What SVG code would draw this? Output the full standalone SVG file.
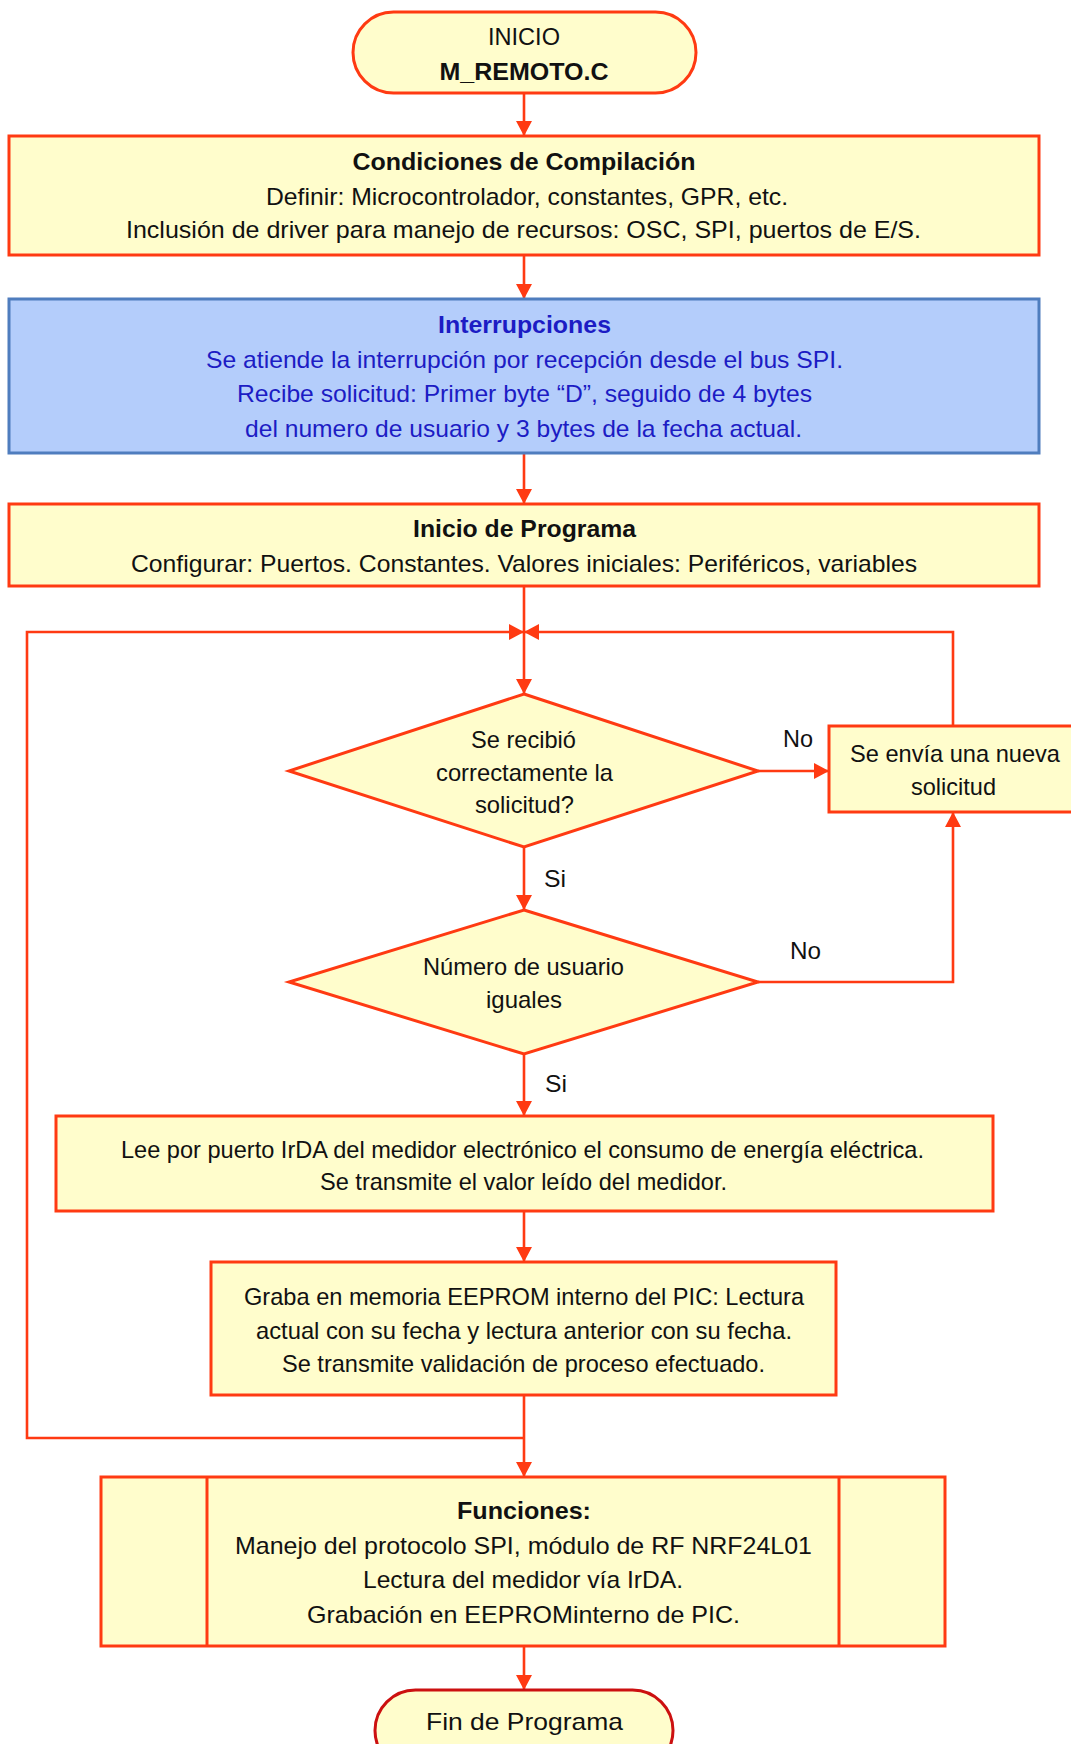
<svg xmlns="http://www.w3.org/2000/svg" width="1071" height="1744" viewBox="0 0 1071 1744">
  <style>
    .box { fill: #FFFDCC; stroke: #FF3A12; stroke-width: 3; }
    .blue { fill: #B4CDFB; stroke: #4F7DBE; stroke-width: 3; }
    .end { fill: #FFFDCC; stroke: #CC1010; stroke-width: 3; }
    .wire { fill: none; stroke: #FF3A12; stroke-width: 2.6; }
    text { font-family: "Liberation Sans", Arial, sans-serif; font-size: 24px; fill: #111111; }
    .c { text-anchor: middle; }
    .b { font-weight: bold; }
    .bt { fill: #1C1CC4; }
  </style>
  <defs>
    <marker id="arrow" markerUnits="userSpaceOnUse" markerWidth="16" markerHeight="16" refX="15" refY="8" orient="auto">
      <path d="M0,0 L15,8 L0,16 z" fill="#FF3A12"/>
    </marker>
  </defs>

  <rect width="1071" height="1744" fill="#FFFFFF"/>

  <!-- connectors -->
  <g id="connectors">
    <line class="wire" x1="524" y1="93" x2="524" y2="136" marker-end="url(#arrow)"/>
    <line class="wire" x1="524" y1="255" x2="524" y2="299" marker-end="url(#arrow)"/>
    <line class="wire" x1="524" y1="453" x2="524" y2="504" marker-end="url(#arrow)"/>
    <line class="wire" x1="524" y1="586" x2="524" y2="694" marker-end="url(#arrow)"/>
    <!-- loop back from the recording step -->
    <polyline class="wire" points="524,1438 27,1438 27,632 524,632" marker-end="url(#arrow)"/>
    <!-- loop back from the new request -->
    <polyline class="wire" points="953,726 953,632 524,632" marker-end="url(#arrow)"/>
    <line class="wire" x1="758" y1="771" x2="829" y2="771" marker-end="url(#arrow)"/>
    <line class="wire" x1="524" y1="847" x2="524" y2="910" marker-end="url(#arrow)"/>
    <polyline class="wire" points="758,982 953,982 953,812" marker-end="url(#arrow)"/>
    <line class="wire" x1="524" y1="1054" x2="524" y2="1116" marker-end="url(#arrow)"/>
    <line class="wire" x1="524" y1="1211" x2="524" y2="1262" marker-end="url(#arrow)"/>
    <line class="wire" x1="524" y1="1395" x2="524" y2="1477" marker-end="url(#arrow)"/>
    <line class="wire" x1="524" y1="1646" x2="524" y2="1690" marker-end="url(#arrow)"/>
    <text x="783" y="747" textLength="30" lengthAdjust="spacingAndGlyphs">No</text>
    <text x="544" y="887" textLength="22" lengthAdjust="spacingAndGlyphs">Si</text>
    <text x="790" y="959" textLength="31" lengthAdjust="spacingAndGlyphs">No</text>
    <text x="545" y="1092" textLength="22" lengthAdjust="spacingAndGlyphs">Si</text>
  </g>

  <g id="inicio">
    <rect class="box" x="353" y="12" width="343" height="81" rx="40.5" ry="40.5"/>
    <text class="c" x="524" y="45" textLength="72" lengthAdjust="spacingAndGlyphs">INICIO</text>
    <text class="c b" x="524" y="80" textLength="169" lengthAdjust="spacingAndGlyphs">M_REMOTO.C</text>
  </g>

  <g id="compilacion">
    <rect class="box" x="9" y="136" width="1030" height="119"/>
    <text class="c b" x="524" y="170" textLength="343" lengthAdjust="spacingAndGlyphs">Condiciones de Compilación</text>
    <text class="c" x="527" y="205" textLength="522" lengthAdjust="spacingAndGlyphs">Definir: Microcontrolador, constantes, GPR, etc.</text>
    <text class="c" x="523.5" y="238" textLength="795" lengthAdjust="spacingAndGlyphs">Inclusión de driver para manejo de recursos: OSC, SPI, puertos de E/S.</text>
  </g>

  <g id="interrupciones">
    <rect class="blue" x="9" y="299" width="1030" height="154"/>
    <text class="c b bt" x="524.5" y="333" textLength="173" lengthAdjust="spacingAndGlyphs">Interrupciones</text>
    <text class="c bt" x="524.5" y="368" textLength="637" lengthAdjust="spacingAndGlyphs">Se atiende la interrupción por recepción desde el bus SPI.</text>
    <text class="c bt" x="524.5" y="402" textLength="575" lengthAdjust="spacingAndGlyphs">Recibe solicitud: Primer byte “D”, seguido de 4 bytes</text>
    <text class="c bt" x="523.5" y="437" textLength="557" lengthAdjust="spacingAndGlyphs">del numero de usuario y 3 bytes de la fecha actual.</text>
  </g>

  <g id="inicio-programa">
    <rect class="box" x="9" y="504" width="1030" height="82"/>
    <text class="c b" x="524.5" y="537" textLength="223" lengthAdjust="spacingAndGlyphs">Inicio de Programa</text>
    <text class="c" x="524" y="572" textLength="786" lengthAdjust="spacingAndGlyphs">Configurar: Puertos. Constantes. Valores iniciales: Periféricos, variables</text>
  </g>

  <g id="decision-solicitud">
    <polygon class="box" points="524,694 758,771 524,847 289,771"/>
    <text class="c" x="523.5" y="748" textLength="105" lengthAdjust="spacingAndGlyphs">Se recibió</text>
    <text class="c" x="524.5" y="781" textLength="177" lengthAdjust="spacingAndGlyphs">correctamente la</text>
    <text class="c" x="524.5" y="813" textLength="99" lengthAdjust="spacingAndGlyphs">solicitud?</text>
  </g>

  <g id="nueva-solicitud">
    <rect class="box" x="829" y="726" width="250" height="86"/>
    <text class="c" x="955" y="762" textLength="210" lengthAdjust="spacingAndGlyphs">Se envía una nueva</text>
    <text class="c" x="953.5" y="795" textLength="85" lengthAdjust="spacingAndGlyphs">solicitud</text>
  </g>

  <g id="decision-usuario">
    <polygon class="box" points="524,910 758,982 524,1054 289,982"/>
    <text class="c" x="523.5" y="975" textLength="201" lengthAdjust="spacingAndGlyphs">Número de usuario</text>
    <text class="c" x="524" y="1008" textLength="76" lengthAdjust="spacingAndGlyphs">iguales</text>
  </g>

  <g id="lectura-irda">
    <rect class="box" x="56" y="1116" width="937" height="95"/>
    <text class="c" x="522.5" y="1158" textLength="803" lengthAdjust="spacingAndGlyphs">Lee por puerto IrDA del medidor electrónico el consumo de energía eléctrica.</text>
    <text class="c" x="523.5" y="1190" textLength="407" lengthAdjust="spacingAndGlyphs">Se transmite el valor leído del medidor.</text>
  </g>

  <g id="grabacion">
    <rect class="box" x="211" y="1262" width="625" height="133"/>
    <text class="c" x="524" y="1305" textLength="560" lengthAdjust="spacingAndGlyphs">Graba en memoria EEPROM interno del PIC: Lectura</text>
    <text class="c" x="524" y="1339" textLength="536" lengthAdjust="spacingAndGlyphs">actual con su fecha y lectura anterior con su fecha.</text>
    <text class="c" x="523.5" y="1372" textLength="483" lengthAdjust="spacingAndGlyphs">Se transmite validación de proceso efectuado.</text>
  </g>

  <g id="funciones">
    <rect class="box" x="101" y="1477" width="844" height="169"/>
    <line class="box" x1="207" y1="1477" x2="207" y2="1646"/>
    <line class="box" x1="839" y1="1477" x2="839" y2="1646"/>
    <text class="c b" x="524" y="1519" textLength="134" lengthAdjust="spacingAndGlyphs">Funciones:</text>
    <text class="c" x="523.5" y="1554" textLength="577" lengthAdjust="spacingAndGlyphs">Manejo del protocolo SPI, módulo de RF NRF24L01</text>
    <text class="c" x="523" y="1588" textLength="320" lengthAdjust="spacingAndGlyphs">Lectura del medidor vía IrDA.</text>
    <text class="c" x="523.5" y="1623" textLength="433" lengthAdjust="spacingAndGlyphs">Grabación en EEPROMinterno de PIC.</text>
  </g>

  <g id="fin">
    <rect class="end" x="375" y="1690" width="298" height="81" rx="40.5" ry="40.5"/>
    <text class="c" x="524.5" y="1730" textLength="197" lengthAdjust="spacingAndGlyphs">Fin de Programa</text>
  </g>
</svg>
